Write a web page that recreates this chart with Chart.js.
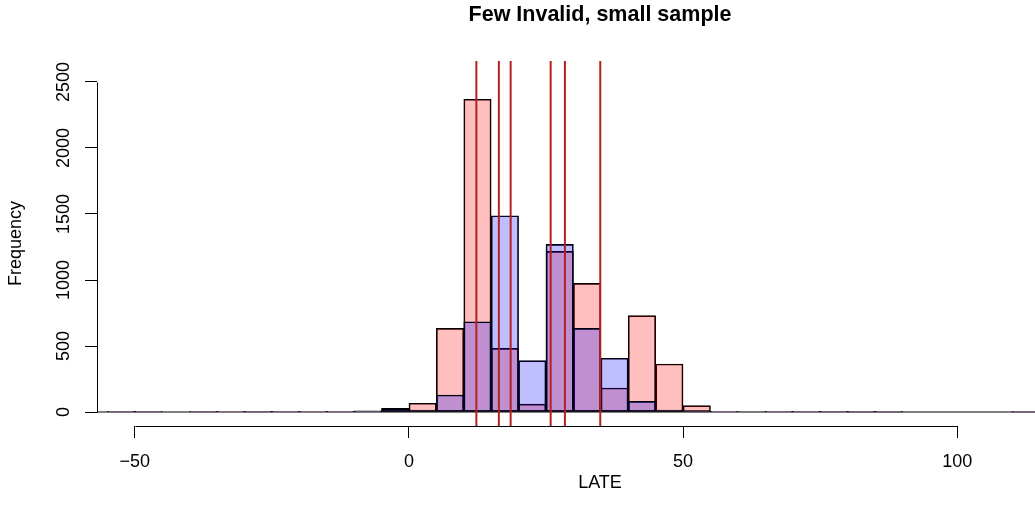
<!DOCTYPE html>
<html lang="en">
<head>
  <meta charset="UTF-8" />
  <title>Few Invalid, small sample</title>
  <script src="https://cdn.jsdelivr.net/npm/chart.js"></script>
  <style>
    html, body {
      margin: 0;
      padding: 0;
      overflow: hidden;
      background: #fff;
    }
    #chart-container {
      width: 1200px;
      height: 522px;
    }
  </style>
</head>
<body>

  <div id="chart-container">
    <canvas id="lateChart" width="1200" height="522"></canvas>
  </div>

  <script>
    // histogram bins: midpoints (bin width 5)
    const binMids = [-52.5, -47.5, -42.5, -37.5, -32.5, -27.5, -22.5, -17.5, -12.5, -7.5, -2.5,
                     2.5, 7.5, 12.5, 17.5, 22.5, 27.5, 32.5, 37.5, 42.5, 47.5, 52.5,
                     57.5, 62.5, 67.5, 72.5, 77.5, 82.5, 87.5, 92.5, 97.5, 102.5, 107.5, 112.5];
    const countsRed = [2, 1, 0, 1, 3, 1, 3, 3, 5, 8, 28,
                       66, 634, 2369, 482, 60, 1217, 975, 182, 730, 364, 48,
                       2, 4, 5, 2, 1, 1, 1, 0, 0, 0, 0, 1];
    const countsBlue = [1, 2, 0, 2, 4, 2, 3, 4, 5, 6, 22,
                        15, 129, 684, 1487, 389, 1270, 634, 407, 81, 15, 3,
                        2, 4, 5, 2, 2, 1, 1, 0, 0, 0, 0, 1];
    const binRange = [-60, 130];
    // estimates marked by vertical lines
    const lateLines = [12.3, 16.4, 18.55, 25.85, 28.45, 34.9];

    const xTicks = [-50, 0, 50, 100];
    const xTickLabels = ['\u221250', '0', '50', '100'];
    const yTicks = [0, 500, 1000, 1500, 2000, 2500];
    const yTickLabels = ['0', '500', '1000', '1500', '2000', '2500'];

    const xMin = -56.9, xMax = 126.6;
    const yMin = -106, yMax = 2659;

    const fontFamily = '"Liberation Sans", Arial, Helvetica, sans-serif';

    // R-style axis lines that stop at the outer ticks
    const rAxisLines = {
      id: 'rAxisLines',
      afterDraw(chart) {
        const ctx = chart.ctx;
        const xs = chart.scales.x, ys = chart.scales.y;
        const area = chart.chartArea;
        ctx.save();
        ctx.strokeStyle = '#000';
        ctx.lineWidth = 1;
        ctx.beginPath();
        const yb = Math.round(area.bottom) + 0.5;
        ctx.moveTo(Math.round(xs.getPixelForValue(xTicks[0])) + 0.5, yb);
        ctx.lineTo(Math.round(xs.getPixelForValue(xTicks[xTicks.length - 1])) + 0.5, yb);
        const xl = Math.round(area.left) + 0.5;
        ctx.moveTo(xl, Math.round(ys.getPixelForValue(yTicks[0])) + 0.5);
        ctx.lineTo(xl, Math.round(ys.getPixelForValue(yTicks[yTicks.length - 1])) + 0.5);
        ctx.stroke();
        ctx.restore();
      }
    };

    function histPoints(counts) {
      return binMids.map((m, i) => ({ x: m, y: counts[i] }));
    }

    const lineSets = lateLines.map(v => ({
      type: 'line',
      data: [{ x: v, y: yMin }, { x: v, y: yMax }],
      borderColor: '#B22222',
      borderWidth: 2,
      pointRadius: 0,
      order: 0
    }));

    const ctx = document.getElementById('lateChart').getContext('2d');
    const chart = new Chart(ctx, {
      type: 'bar',
      data: {
        datasets: [
          ...lineSets,
          {
            label: 'blue',
            data: histPoints(countsBlue),
            backgroundColor: 'rgba(0, 0, 255, 0.25)',
            borderColor: '#000',
            borderWidth: 1,
            borderSkipped: false,
            grouped: false,
            barPercentage: 1,
            categoryPercentage: 1,
            order: 1
          },
          {
            label: 'red',
            data: histPoints(countsRed),
            backgroundColor: 'rgba(255, 0, 0, 0.25)',
            borderColor: '#000',
            borderWidth: 1,
            borderSkipped: false,
            grouped: false,
            barPercentage: 1,
            categoryPercentage: 1,
            order: 2
          },
          {
            type: 'line',
            data: [{ x: binRange[0], y: 0 }, { x: binRange[1], y: 0 }],
            borderColor: '#000',
            borderWidth: 1,
            pointRadius: 0,
            order: 3
          }
        ]
      },
      options: {
        responsive: false,
        animation: false,
        devicePixelRatio: 1,
        layout: { padding: 0 },
        plugins: {
          legend: { display: false },
          tooltip: { enabled: false },
          title: {
            display: true,
            text: 'Few Invalid, small sample',
            color: '#000',
            font: { family: fontFamily, size: 21.5, weight: 'bold' },
            padding: { top: 2, bottom: 33.2 }
          }
        },
        scales: {
          x: {
            type: 'linear',
            position: 'bottom',
            min: xMin,
            max: xMax,
            offset: false,
            afterBuildTicks: s => { s.ticks = xTicks.map(v => ({ value: v })); },
            afterFit: s => { s.height = 96; },
            grid: { offset: false, drawOnChartArea: false, drawTicks: true, tickLength: 12, color: '#000', lineWidth: 1 },
            border: { display: false },
            ticks: {
              color: '#000',
              font: { family: fontFamily, size: 18 },
              padding: 13,
              maxRotation: 0,
              autoSkip: false,
              callback: (v, i) => xTickLabels[i]
            },
            title: {
              display: true,
              text: 'LATE',
              color: '#000',
              font: { family: fontFamily, size: 18 },
              padding: { top: 0, bottom: 28 }
            }
          },
          y: {
            type: 'linear',
            position: 'left',
            min: yMin,
            max: yMax,
            afterBuildTicks: s => { s.ticks = yTicks.map(v => ({ value: v })); },
            afterFit: s => { s.width = 97; },
            grid: { drawOnChartArea: false, drawTicks: true, tickLength: 12, color: '#000', lineWidth: 1 },
            border: { display: false },
            ticks: {
              color: '#000',
              font: { family: fontFamily, size: 18 },
              padding: 1,
              minRotation: 90,
              maxRotation: 90,
              crossAlign: 'center',
              autoSkip: false,
              callback: (v, i) => yTickLabels[i]
            },
            title: {
              display: true,
              text: 'Frequency',
              color: '#000',
              font: { family: fontFamily, size: 18 },
              padding: { top: 5, bottom: 0 }
            }
          },
          yRight: {
            type: 'linear',
            position: 'right',
            display: true,
            afterFit: s => { s.width = 97; },
            grid: { display: false },
            border: { display: false },
            ticks: { display: false }
          }
        }
      },
      plugins: [rAxisLines]
    });
  </script>

</body>
</html>
